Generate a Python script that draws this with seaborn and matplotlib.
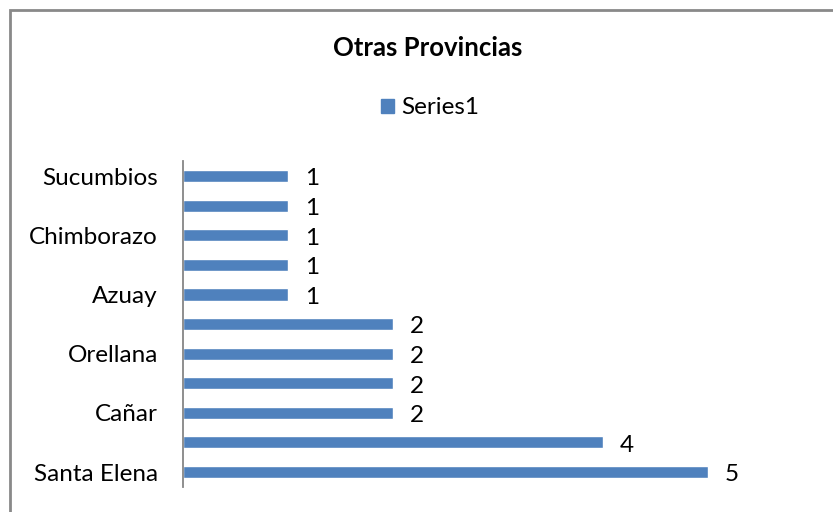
import matplotlib
matplotlib.use("Agg")
import matplotlib.pyplot as plt
from matplotlib.patches import Rectangle
import seaborn as sns
import pandas as pd

# categories top to bottom; Excel only printed every other name
categorias = ["Sucumbios", "cat2", "Chimborazo", "cat4", "Azuay", "cat6",
              "Orellana", "cat8", "Cañar", "cat10", "Santa Elena"]
etiquetas = ["Sucumbios", "", "Chimborazo", "", "Azuay", "",
             "Orellana", "", "Cañar", "", "Santa Elena"]
valores = [1, 1, 1, 1, 1, 2, 2, 2, 2, 4, 5]

df = pd.DataFrame({"Provincia": categorias, "Series1": valores})

sns.set_theme(style="white")
plt.rcParams["font.family"] = ["Lato", "DejaVu Sans"]
plt.rcParams["text.color"] = "black"

azul = "#4F81BD"
fig = plt.figure(figsize=(8.33, 5.12), dpi=100)
ax = fig.add_axes([0.2197, 0.0492, 0.7563, 0.6358])

sns.barplot(data=df, y="Provincia", x="Series1", orient="h", color=azul,
            width=0.41, saturation=1, ax=ax)

ax.set_xlim(0, 6)
ax.set_ylim(10.5, -0.5)
ax.set_xlabel("")
ax.set_ylabel("")
ax.set_xticks([])
ax.set_yticks(range(len(categorias)))
ax.set_yticklabels(etiquetas, fontsize=17.5, color="black")
ax.tick_params(axis="y", length=0, pad=18)
for s in ["top", "right", "bottom"]:
    ax.spines[s].set_visible(False)
ax.spines["left"].set_color("#868686")
ax.spines["left"].set_linewidth(1.3)

for i, v in enumerate(valores):
    ax.annotate(str(v), (v, i), xytext=(12, -2), textcoords="offset points",
                ha="left", va="center", fontsize=17.5, color="black")

fig.legend(handles=[Rectangle((0, 0), 1, 1, color=azul)], labels=["Series1"],
           loc="center", bbox_to_anchor=(0.5165, 1 - 108 / 512), frameon=False,
           fontsize=17.5, handlelength=0.55, handleheight=0.55, handletextpad=0.3,
           labelcolor="black")

fig.text(0.513, 1 - 48 / 512, "Otras Provincias", ha="center", va="center",
         fontsize=18.5, fontweight="bold", color="black")

# chart frame, cut at the right and bottom edges like the screenshot
fig.patches.append(Rectangle((10 / 833, -0.1), 1.1, 1 - 9.5 / 512 + 0.1,
                             transform=fig.transFigure, fill=False,
                             edgecolor="#898989", linewidth=2))

fig.savefig("out.png", dpi=100)
